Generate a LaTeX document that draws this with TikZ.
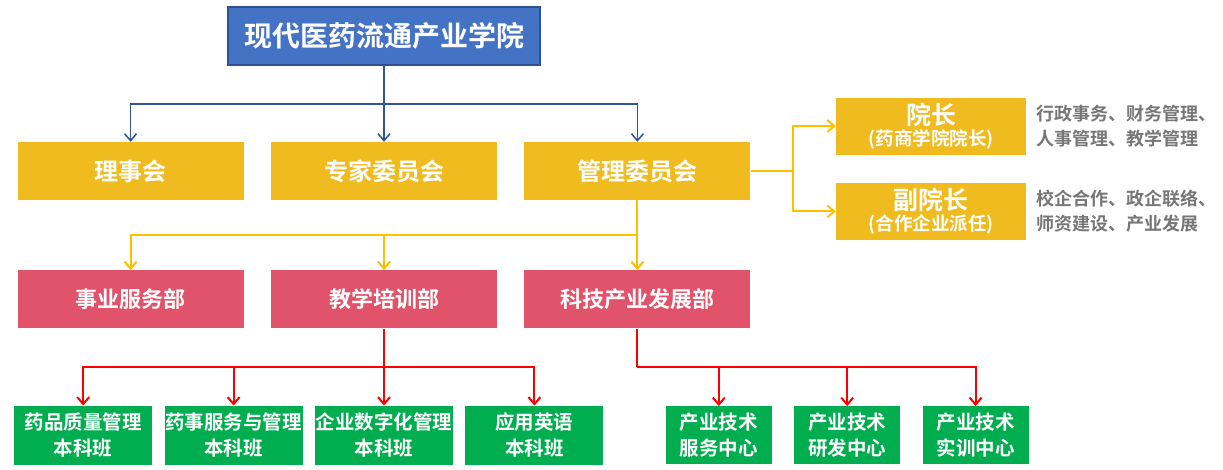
\documentclass[tikz,border=0pt]{standalone}
\usepackage{fontspec}
\setmainfont{Noto Sans CJK SC}[BoldFont={Noto Sans CJK SC Bold}]
\usetikzlibrary{arrows.meta,calc,positioning}

\definecolor{xyblue}{HTML}{4472C4}
\definecolor{xyborder}{HTML}{2F528F}
\definecolor{lineblue}{HTML}{2F5597}
\definecolor{boxyellow}{HTML}{F0BB1F}
\definecolor{lineyellow}{HTML}{FFC000}
\definecolor{boxpink}{HTML}{E0536A}
\definecolor{boxgreen}{HTML}{00AE4F}
\definecolor{notegray}{HTML}{767676}

\begin{document}
\begin{tikzpicture}[
    x=1pt, y=-1pt,
    college/.style={rectangle, minimum width=312pt, minimum height=58pt, inner sep=0pt, text centered, draw=xyborder, line width=1.5pt, fill=xyblue, text=white, font=\bfseries\fontsize{28}{30}\selectfont},
    council/.style={rectangle, minimum width=226pt, minimum height=58pt, inner sep=0pt, text centered, fill=boxyellow, text=white, font=\bfseries\fontsize{24}{26}\selectfont},
    leader/.style={rectangle, minimum width=190pt, minimum height=57pt, inner sep=0pt, align=center, fill=boxyellow, text=white, font=\bfseries\fontsize{25}{24}\selectfont},
    dept/.style={rectangle, minimum width=226pt, minimum height=58pt, inner sep=0pt, text centered, fill=boxpink, text=white, font=\bfseries\fontsize{22}{24}\selectfont},
    classbox/.style={rectangle, minimum width=138pt, minimum height=59pt, inner sep=0pt, align=center, fill=boxgreen, text=white, font=\bfseries\fontsize{19.5}{26}\selectfont},
    centerbox/.style={rectangle, minimum width=106pt, minimum height=58pt, inner sep=0pt, align=center, fill=boxgreen, text=white, font=\bfseries\fontsize{19.5}{26}\selectfont},
    note/.style={align=left, anchor=west, inner sep=0pt, text=notegray, font=\bfseries\fontsize{18}{25}\selectfont},
    barrow/.style={line width=1.5pt, draw=lineblue, -{Straight Barb[length=7pt,width=12pt]}},
    yarrow/.style={line width=2pt, draw=lineyellow, -{Straight Barb[length=7pt,width=12pt]}},
    rarrow/.style={line width=2pt, draw=red, -{Straight Barb[length=7pt,width=12pt]}}
]
    \useasboundingbox (0,0) rectangle (1223,469);

    % first row
    \node (zjwyh) [council] at (384,171) {专家委员会};
    \node (lsh) [council, left=27pt of zjwyh] {理事会};
    \node (glwyh) [council, right=27pt of zjwyh] {管理委员会};
    \node (xy) [college, above=76pt of zjwyh] {现代医药流通产业学院};

    % leaders
    \node (yz) [leader] at (931,126) {院长\\[-3pt]{\fontsize{18.5}{20}\selectfont(药商学院院长)}};
    \node (fyz) [leader, below=28pt of yz] {副院长\\[-3pt]{\fontsize{18.5}{20}\selectfont(合作企业派任)}};
    \node (yznote) [note] at ($(yz.east)+(10,0)$) {行政事务、财务管理、\\人事管理、教学管理};
    \node (fyznote) [note] at ($(fyz.east)+(10,0)$) {校企合作、政企联络、\\师资建设、产业发展};

    % departments
    \node (jxpx) [dept, below=70pt of zjwyh] {教学培训部};
    \node (sywfw) [dept, left=27pt of jxpx] {事业服务部};
    \node (kjcy) [dept, right=27pt of jxpx] {科技产业发展部};

    % classes
    \node (qysz) [classbox, below=77pt of jxpx] {企业数字化管理\\本科班};
    \node (ysfw) [classbox, left=12pt of qysz] {药事服务与管理\\本科班};
    \node (ypzl) [classbox, left=12pt of ysfw] {药品质量管理\\本科班};
    \node (yyyy) [classbox, right=12pt of qysz] {应用英语\\本科班};

    % centres
    \node (cyfw) [centerbox, right=62pt of yyyy] {产业技术\\服务中心};
    \node (cyyf) [centerbox, right=22pt of cyfw] {产业技术\\研发中心};
    \node (cysx) [centerbox, right=22pt of cyyf] {产业技术\\实训中心};

    % bus points
    \coordinate (busa) at ($(xy.south)!0.5!(zjwyh.north)$);
    \coordinate (busb) at ($(glwyh.south)!0.5!(kjcy.north)$);
    \coordinate (busc) at ($(glwyh.east)!0.5!(glwyh.east -| yz.west)$);
    \coordinate (busd) at ($(jxpx.south)!0.5!(qysz.north)$);
    \coordinate (buse) at (kjcy.south |- busd);

    \draw [barrow, -] (xy.south) -- (busa);
    \draw [barrow] (busa) -| (lsh.north);
    \draw [barrow] (busa) -- (zjwyh.north);
    \draw [barrow] (busa) -| (glwyh.north);

    \draw [yarrow, -] (glwyh.east) -- (busc);
    \draw [yarrow] (busc) |- (yz.west);
    \draw [yarrow] (busc) |- (fyz.west);

    \draw [yarrow, -] (glwyh.south) -- (busb);
    \draw [yarrow] (busb) -| (sywfw.north);
    \draw [yarrow] (busb) -| (jxpx.north);
    \draw [yarrow] (busb) -- (kjcy.north);

    \draw [rarrow, -] (jxpx.south) -- (busd);
    \draw [rarrow] (busd) -| (ypzl.north);
    \draw [rarrow] (busd) -| (ysfw.north);
    \draw [rarrow] (busd) -- (qysz.north);
    \draw [rarrow] (busd) -| (yyyy.north);

    \draw [rarrow, -] (kjcy.south) -- (buse);
    \draw [rarrow] (buse) -| (cyfw.north);
    \draw [rarrow] (buse) -| (cyyf.north);
    \draw [rarrow] (buse) -| (cysx.north);
\end{tikzpicture}
\end{document}
